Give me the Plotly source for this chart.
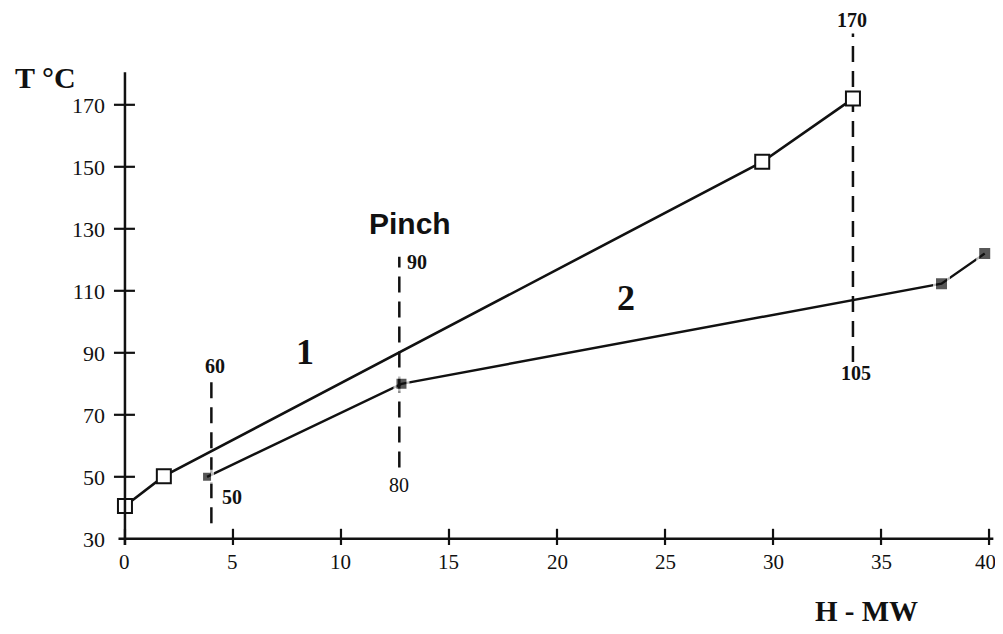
import plotly.graph_objects as go

# Data
hot_H = [0, 1.8, 29.5, 33.7]
hot_T = [40.6, 50.2, 151.6, 172]
cold_H = [3.8, 12.8, 37.8, 39.8]
cold_T = [50, 80, 112.3, 122]

x_ticks = [0, 5, 10, 15, 20, 25, 30, 35, 40]
x_tick_labels = ["0", "5", "10", "15", "20", "25", "30", "35", "40"]
y_ticks = [30, 50, 70, 90, 110, 130, 150, 170]

# vertical dashed marker lines: H position, T from, T to
dash_H = [4.0, 12.7, 33.7]
dash_T0 = [35, 53, 87]
dash_T1 = [83, 121, 193]

# value labels: text, H, T, bold
lab_text = ["60", "50", "90", "80", "170", "105"]
lab_H = [4.15, 4.95, 13.5, 12.7, 33.65, 33.85]
lab_T = [85.8, 43.5, 119.4, 47.4, 197.4, 83.5]
lab_bold = [True, True, True, False, True, True]

region_text = ["1", "2"]
region_H = [8.33, 23.2]
region_T = [90.3, 107.7]

SERIF = "Liberation Serif, Times New Roman, serif"

fig = go.Figure()

for h, t0, t1 in zip(dash_H, dash_T0, dash_T1):
    fig.add_trace(go.Scatter(x=[h, h], y=[t0, t1], mode="lines",
                             line=dict(color="#111", width=2.5, dash="16px,9px"),
                             showlegend=False, hoverinfo="skip"))

fig.add_trace(go.Scatter(x=cold_H, y=cold_T, mode="lines+markers",
                         line=dict(color="#111", width=2.4),
                         marker=dict(symbol="square", size=[11, 13, 14, 14], color="#111",
                                     line=dict(color="white", width=3)),
                         showlegend=False))
fig.add_trace(go.Scatter(x=hot_H, y=hot_T, mode="lines+markers",
                         line=dict(color="#111", width=2.6),
                         marker=dict(symbol="square", size=14, color="white",
                                     line=dict(color="#111", width=2)),
                         showlegend=False))

shapes = []
# axis lines
shapes.append(dict(type="line", xref="x", yref="y", x0=-0.3, x1=40.2, y0=30, y1=30,
                   line=dict(color="#111", width=2.5)))
shapes.append(dict(type="line", xref="x", yref="y", x0=0, x1=0, y0=28, y1=180.5,
                   line=dict(color="#111", width=2.5)))
for t in x_ticks:
    shapes.append(dict(type="line", xref="x", yref="y", ysizemode="pixel", yanchor=30,
                       x0=t, x1=t, y0=-10, y1=10, line=dict(color="#111", width=2.2)))
for t in y_ticks[1:]:
    shapes.append(dict(type="line", xref="x", yref="y", xsizemode="pixel", xanchor=0,
                       y0=t, y1=t, x0=-11, x1=10, line=dict(color="#111", width=2.2)))

annotations = []
# x tick labels (the last one right-anchored so it stays inside the page)
for i, (t, lbl) in enumerate(zip(x_ticks, x_tick_labels)):
    last = i == len(x_ticks) - 1
    annotations.append(dict(x=t, y=y_ticks[0], xref="x", yref="y", showarrow=False,
                            xanchor="right" if last else "center", yanchor="middle",
                            xshift=9 if last else 0, yshift=-23, text=lbl,
                            font=dict(family=SERIF, size=21, color="#111")))
for txt, h, t, b in zip(lab_text, lab_H, lab_T, lab_bold):
    annotations.append(dict(x=h, y=t, xref="x", yref="y", showarrow=False,
                            xanchor="center", yanchor="middle",
                            text=f"<b>{txt}</b>" if b else txt,
                            font=dict(family=SERIF, size=20, color="#111")))
for txt, h, t in zip(region_text, region_H, region_T):
    annotations.append(dict(x=h, y=t, xref="x", yref="y", showarrow=False,
                            xanchor="center", yanchor="middle",
                            text=f"<b>{txt}</b>",
                            font=dict(family=SERIF, size=36, color="#111")))
annotations.append(dict(x=13.2, y=131.6, xref="x", yref="y", showarrow=False,
                        xanchor="center", yanchor="middle",
                        text="<b>Pinch</b>",
                        font=dict(family="Liberation Sans, Arial, sans-serif", size=30, color="#111")))

# page offset (body margin) compensation: positions below are in figure pixels
OFF = 8
W, H = 1003 - OFF, 634 - 2 * OFF
ml, mr, mt, mb = 112 - OFF, 1, 0, H - (545 - OFF)

paper_labels = [("<b>T °C</b>", 45, 77, 30), ("<b>H - MW</b>", 866, 611, 29)]
for txt, px, py, fs in paper_labels:
    annotations.append(dict(x=(px - OFF - ml) / (W - ml - mr),
                            y=1 - (py - OFF - mt) / (H - mt - mb),
                            xref="paper", yref="paper", showarrow=False, text=txt,
                            xanchor="center", yanchor="middle",
                            font=dict(family=SERIF, size=fs, color="#111")))

plot_h = H - mt - mb
y_top = 28 + plot_h / 3.1

fig.update_layout(
    width=W, height=H,
    margin=dict(l=ml, r=mr, t=mt, b=mb),
    paper_bgcolor="white", plot_bgcolor="white",
    shapes=shapes, annotations=annotations,
    xaxis=dict(range=[-0.6, 40.6], showgrid=False, zeroline=False, showline=False,
               showticklabels=False, ticks="", automargin=False),
    yaxis=dict(range=[28, y_top], showgrid=False, zeroline=False, showline=False,
               tickvals=y_ticks, ticks="", ticklabelstandoff=6, automargin=False,
               tickfont=dict(family=SERIF, size=22, color="#111")),
)

fig.write_html("out.html")
